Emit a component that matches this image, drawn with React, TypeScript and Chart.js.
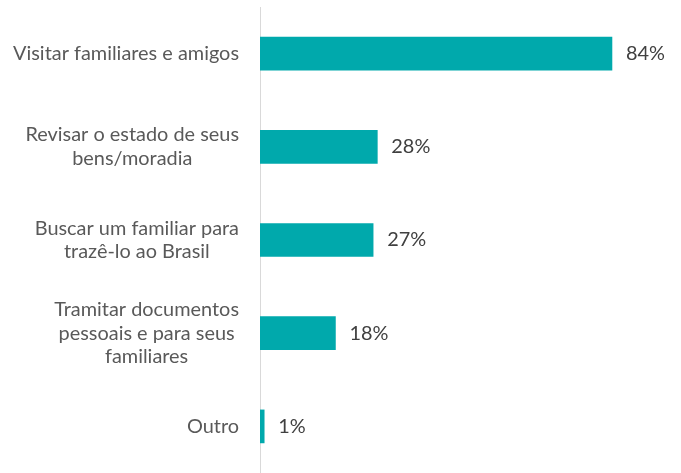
import React, { useEffect, useRef } from "react";
import { Chart, registerables } from "chart.js";

Chart.register(...registerables);

const categories: string[][] = [
  ["Visitar familiares e amigos"],
  ["Revisar o estado de seus", "bens/moradia"],
  ["Buscar um familiar para", "trazê-lo ao Brasil"],
  ["Tramitar documentos", "pessoais e para seus", "familiares"],
  ["Outro"],
];
const values: number[] = [84, 28, 27, 18, 1];

const FONT = "Lato, 'Open Sans', sans-serif";

const labelPlugin = {
  id: "customLabels",
  afterDatasetsDraw(chart: any) {
    const ctx = chart.ctx;
    const yScale = chart.scales.y;
    const meta = chart.getDatasetMeta(0);
    const left = chart.chartArea.left;
    ctx.save();
    ctx.textBaseline = "middle";
    ctx.font = `19.9px ${FONT}`;
    ctx.fillStyle = "#595959";
    const lineH = 23.5;
    categories.forEach((lines, i) => {
      const yc = yScale.getPixelForValue(i);
      const widths = lines.map((l) => ctx.measureText(l).width);
      const maxW = Math.max(...widths);
      const cx = left - 21 - maxW / 2;
      ctx.textAlign = "center";
      lines.forEach((l, j) => {
        const y = yc + (j - (lines.length - 1) / 2) * lineH;
        ctx.fillText(l, cx, y);
      });
    });
    ctx.fillStyle = "#404040";
    ctx.textAlign = "left";
    meta.data.forEach((bar: any, i: number) => {
      ctx.fillText(values[i] + "%", bar.x + 14, bar.y);
    });
    ctx.restore();
  },
};

export default function App() {
  const ref = useRef<HTMLCanvasElement>(null);
  useEffect(() => {
    if (!ref.current) return;
    const chart = new Chart(ref.current, {
      type: "bar",
      data: {
        labels: categories.map((c) => c.join(" ")),
        datasets: [
          {
            data: values,
            backgroundColor: "#00A9AC",
            barThickness: 33,
          },
        ],
      },
      options: {
        indexAxis: "y",
        animation: false,
        responsive: false,
        maintainAspectRatio: false,
        layout: { padding: { left: 260, top: 7, right: 2, bottom: -2 } },
        plugins: {
          legend: { display: false },
          tooltip: { enabled: false },
        },
        scales: {
          x: { display: false, min: 0, max: 100 },
          y: {
            grid: { display: false, drawTicks: false },
            ticks: { display: false },
            border: { color: "#d9d9d9", width: 1 },
          },
        },
      },
      plugins: [labelPlugin],
    });
    return () => chart.destroy();
  }, []);
  return (
    <div style={{ position: "fixed", left: 0, top: 0, width: 681, height: 473, background: "#fff" }}>
      <canvas ref={ref} width={681} height={473} />
    </div>
  );
}
